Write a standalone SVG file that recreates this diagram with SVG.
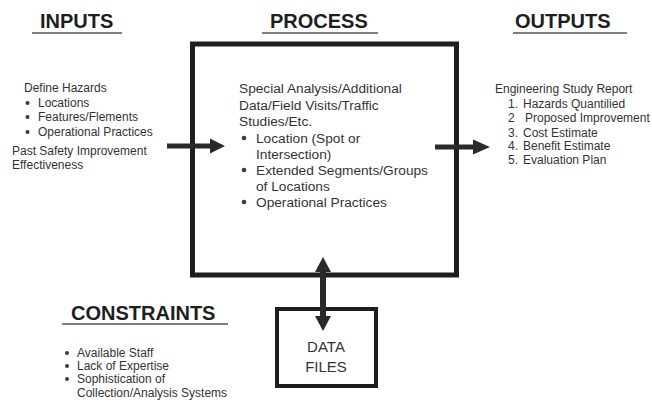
<svg xmlns="http://www.w3.org/2000/svg" width="652" height="402" viewBox="0 0 652 402">
<style>
.hd{font-family:"Liberation Sans",Arial,sans-serif;font-weight:bold;font-size:20px;fill:#1e1e1e}
.ul{stroke:#555;stroke-width:1.6}
.t{font-family:"Liberation Sans",Arial,sans-serif;font-size:12px;fill:#333}
.p{font-family:"Liberation Sans",Arial,sans-serif;font-size:13.7px;fill:#333}
.dot{fill:#3a3a3a}
.box{fill:none;stroke:#1e1e1e}
.arr{fill:#2a2a2a}
</style>
<rect width="652" height="402" fill="#fff"/>
<g id="inputs">
<text class="hd" x="40" y="28">INPUTS</text>
<line class="ul" x1="32" y1="33" x2="122" y2="33"/>
<text class="t" x="24" y="92">Define Hazards</text>
<circle class="dot" cx="27.5" cy="103" r="2"/>
<text class="t" x="38" y="107">Locations</text>
<circle class="dot" cx="27.5" cy="117" r="2"/>
<text class="t" x="38" y="121">Features/Flements</text>
<circle class="dot" cx="27.5" cy="132" r="2"/>
<text class="t" x="38" y="136">Operational Practices</text>
<text class="t" x="12" y="155">Past Safety Improvement</text>
<text class="t" x="12" y="169">Effectiveness</text>
</g>
<g id="process">
<text class="hd" x="270" y="28">PROCESS</text>
<line class="ul" x1="262" y1="33" x2="378" y2="33"/>
<rect class="box" x="192.5" y="44" width="264" height="231" stroke-width="5"/>
<text class="p" x="239" y="93">Special Analysis/Additional</text>
<text class="p" x="239" y="109.5">Data/Field Visits/Traffic</text>
<text class="p" x="239" y="126">Studies/Etc.</text>
<circle class="dot" cx="244" cy="138" r="2.3"/>
<text class="p" x="256" y="143">Location (Spot or</text>
<text class="p" x="256" y="159">Intersection)</text>
<circle class="dot" cx="244" cy="170" r="2.3"/>
<text class="p" x="256" y="175">Extended Segments/Groups</text>
<text class="p" x="256" y="191">of Locations</text>
<circle class="dot" cx="244" cy="202" r="2.3"/>
<text class="p" x="256" y="207">Operational Practices</text>
</g>
<g id="outputs">
<text class="hd" x="515" y="28">OUTPUTS</text>
<line class="ul" x1="513" y1="33" x2="627" y2="33"/>
<text class="t" x="495" y="93">Engineering Study Report</text>
<text class="t" x="508" y="108">1.<tspan x="523">Hazards Quantilied</tspan></text>
<text class="t" x="508" y="122">2<tspan x="525">Proposed Improvement</tspan></text>
<text class="t" x="508" y="137">3.<tspan x="523">Cost Estimate</tspan></text>
<text class="t" x="508" y="150">4.<tspan x="523">Benefit Estimate</tspan></text>
<text class="t" x="508" y="164">5.<tspan x="523">Evaluation Plan</tspan></text>
</g>
<g id="constraints">
<text class="hd" x="71" y="320">CONSTRAINTS</text>
<line class="ul" x1="62" y1="324" x2="228" y2="324"/>
<circle class="dot" cx="67" cy="353" r="2"/>
<text class="t" x="77" y="357">Available Staff</text>
<circle class="dot" cx="67" cy="366" r="2"/>
<text class="t" x="77" y="370">Lack of Expertise</text>
<circle class="dot" cx="67" cy="379" r="2"/>
<text class="t" x="77" y="383">Sophistication of</text>
<text class="t" x="77" y="397">Collection/Analysis Systems</text>
</g>
<g id="data-files">
<rect class="box" x="277" y="309" width="99" height="77" stroke-width="4"/>
<text class="t" x="326" y="352" text-anchor="middle" style="font-size:15px">DATA</text>
<text class="t" x="326" y="372" text-anchor="middle" style="font-size:15px">FILES</text>
</g>
<g id="connectors">
<polygon class="arr" points="167,143.5 210,143.5 210,138.5 225,146 210,153.5 210,148.5 167,148.5"/>
<polygon class="arr" points="435,144.5 473,144.5 473,139.5 490,147 473,154.5 473,149.5 435,149.5"/>
<polygon class="arr" points="323,257 331,272 326,272 326,316 331,316 323,331 315,316 320,316 320,272 315,272"/>
</g>
</svg>
